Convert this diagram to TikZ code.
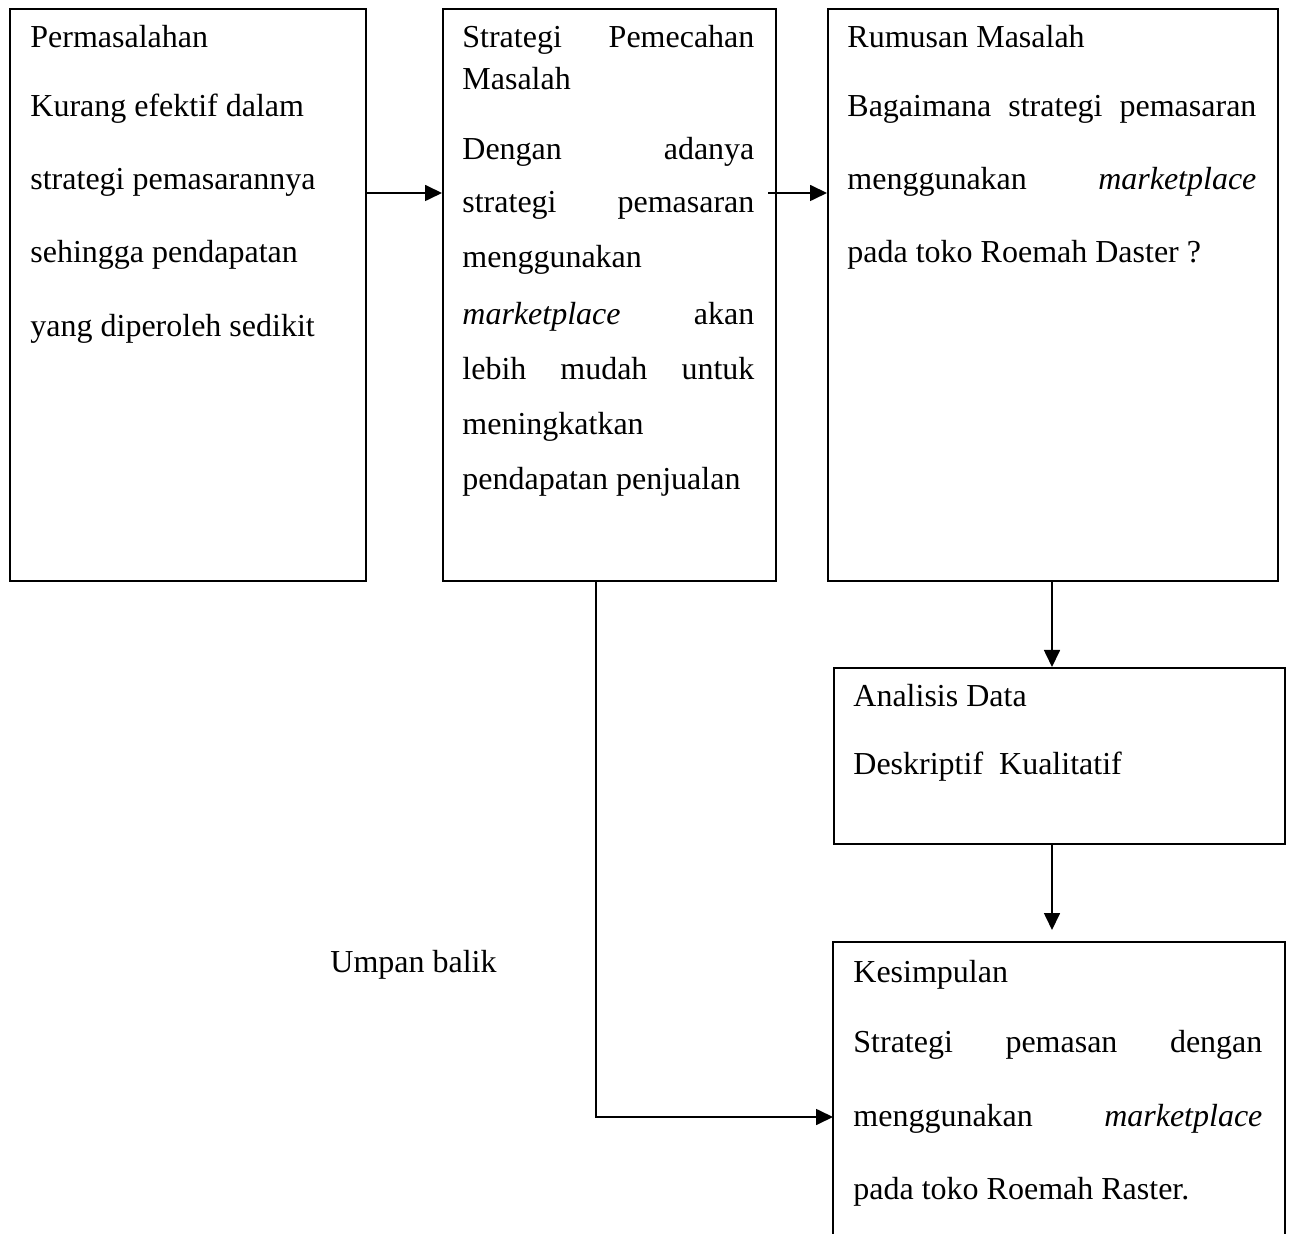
\documentclass[tikz,border=0pt]{standalone}
\usepackage{fontspec}
\setmainfont{Liberation Serif}
\usetikzlibrary{arrows.meta}
\tikzset{
  box/.style={draw, line width=1pt, rectangle, anchor=north west, inner sep=0pt},
  openbox/.style={rectangle, anchor=north west, inner sep=0pt},
  txt/.style={anchor=base west, inner sep=0pt, font=\fontsize{16}{19}\selectfont},
  arr/.style={line width=0.85pt, -{Triangle[length=8.5pt,width=8pt]}},
  ln/.style={line width=0.85pt}
}
\begin{document}
\begin{tikzpicture}[x=0.5pt,y=-0.5pt]
\useasboundingbox (0,0) rectangle (1290,1234);
% boxes
\node[box, minimum width=178pt, minimum height=286pt] (b1) at (9,8) {};
\node[box, minimum width=166.5pt, minimum height=286pt] (b2) at (442,8) {};
\node[box, minimum width=225pt, minimum height=286pt] (b3) at (827,8) {};
\node[box, minimum width=225.5pt, minimum height=88pt] (b4) at (833,667) {};
\node[openbox, minimum width=225.5pt, minimum height=146pt] (b5) at (833,942) {};
\draw[line width=1pt] (b5.south west) -- (b5.north west) -- (b5.north east) -- (b5.south east);
% box 1 text
\node[txt] (t11) at (30,48) {Permasalahan};
\node[txt] (t12) at (30,117) {Kurang efektif dalam};
\node[txt] (t13) at (30,190) {strategi pemasarannya};
\node[txt] (t14) at (30,263) {sehingga pendapatan};
\node[txt] (t15) at (30,337) {yang diperoleh sedikit};
% box 2 text
\node[txt] (t21) at (462,48) {\makebox[146pt][l]{Strategi\hfill Pemecahan}};
\node[txt] (t22) at (462,90) {Masalah};
\node[txt] (t23) at (462,160) {\makebox[146pt][l]{Dengan\hfill adanya}};
\node[txt] (t24) at (462,213) {\makebox[146pt][l]{strategi\hfill pemasaran}};
\node[txt] (t25) at (462,268) {menggunakan};
\node[txt] (t26) at (462,325) {\makebox[146pt][l]{\textit{marketplace}\hfill akan}};
\node[txt] (t27) at (462,380) {\makebox[146pt][l]{lebih\hfill mudah\hfill untuk}};
\node[txt] (t28) at (462,435) {meningkatkan};
\node[txt] (t29) at (462,490) {pendapatan penjualan};
% box 3 text
\node[txt] (t31) at (847,48) {Rumusan Masalah};
\node[txt] (t32) at (847,117) {\makebox[204.5pt][l]{Bagaimana\hfill strategi\hfill pemasaran}};
\node[txt] (t33) at (847,190) {\makebox[204.5pt][l]{menggunakan\hfill \textit{marketplace}}};
\node[txt] (t34) at (847,263) {pada toko Roemah Daster ?};
% box 4 text
\node[txt] (t41) at (853,707) {Analisis Data};
\node[txt] (t42) at (853,775) {Deskriptif\ \ Kualitatif};
% box 5 text
\node[txt] (t51) at (853,982) {Kesimpulan};
\node[txt] (t52) at (853,1052) {\makebox[204.5pt][l]{Strategi\hfill pemasan\hfill dengan}};
\node[txt] (t53) at (853,1126) {\makebox[204.5pt][l]{menggunakan\hfill \textit{marketplace}}};
\node[txt] (t54) at (853,1199) {pada toko Roemah Raster.};
% feedback label
\node[txt] (ub) at (330,972) {Umpan balik};
% connectors
\coordinate (y1) at (0,193);
\coordinate (s2) at (768,193);
\coordinate (c4) at (1052,930);
\coordinate (fb) at (596,1117);
\draw[arr] (b1.east |- y1) -- (b2.west |- y1);
\draw[arr] (s2) -- (b3.west |- y1);
\draw[arr] (b3.south -| c4) -- (b4.north -| c4);
\draw[arr] (b4.south -| c4) -- (c4);
\draw[arr] (b2.south -| fb) -- (fb) -- (fb -| b5.west);
\end{tikzpicture}
\end{document}
